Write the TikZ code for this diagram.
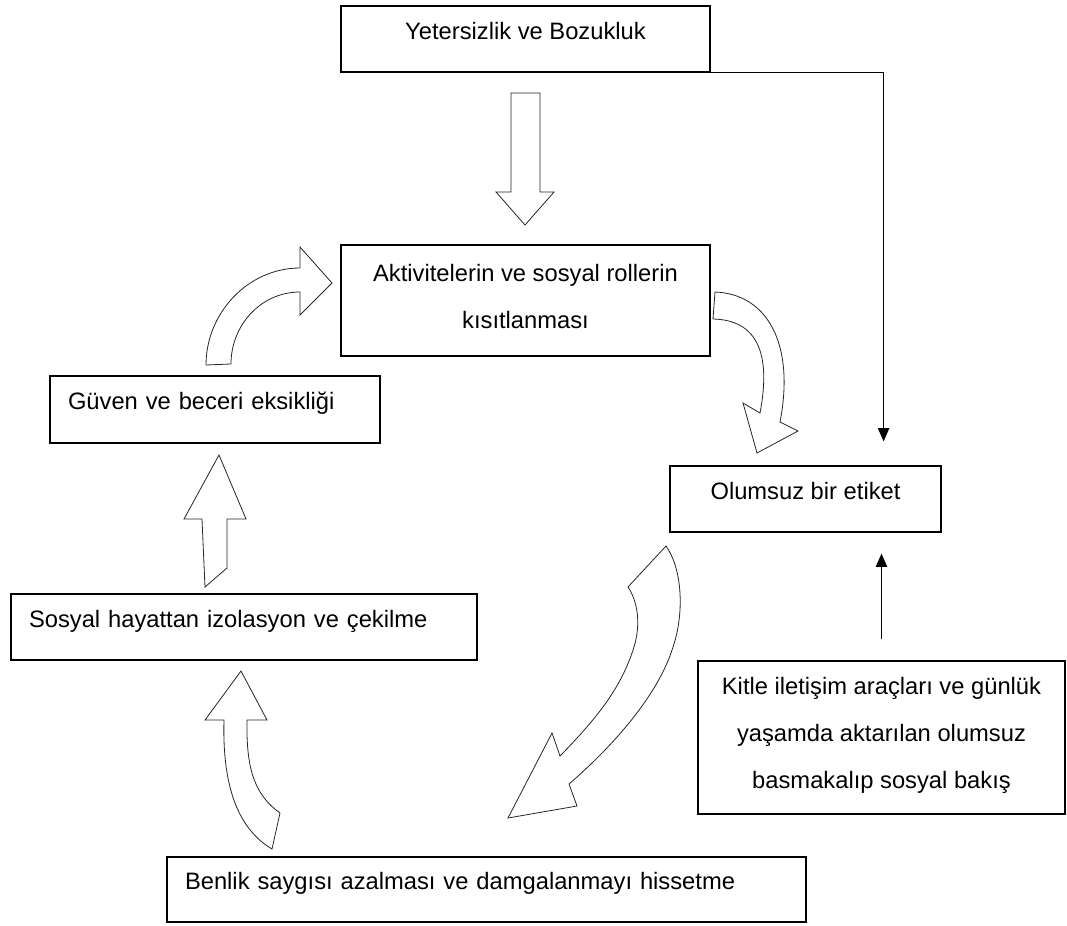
\documentclass[tikz,border=0pt]{standalone}
\usepackage{fontspec}
\setmainfont{Liberation Sans}
\usetikzlibrary{arrows.meta}

\begin{document}
\begin{tikzpicture}[x=0.75pt, y=-0.75pt,
    every node/.style={font=\fontsize{17.8}{35}\selectfont},
    kutu/.style={draw, line width=0.9pt, align=center, text height=10pt, text depth=10pt},
    solkutu/.style={kutu, align=left, inner xsep=13.5pt},
    blokok/.style={draw=black!85, line width=0.6pt, fill=white},
    ince/.style={line width=0.9pt, -{Triangle[length=10pt,width=8.5pt]}}]

    \useasboundingbox (0,0) rectangle (1067,925);

    % Kutular
    \node[kutu, minimum width=276.75pt, minimum height=49.5pt] (yet) at (525.5,39) {Yetersizlik ve Bozukluk};
    \node[kutu, minimum width=276.75pt, minimum height=83.25pt, text height=49.25pt, text depth=8pt] (akt) at (525.5,300.5) {Aktivitelerin ve sosyal rollerin\\kısıtlanması};
    \node[solkutu, text width=220.5pt, minimum height=50.25pt] (guv) at (215,409.5) {Güven ve beceri eksikliği};
    \node[kutu, minimum width=203.25pt, minimum height=49.5pt] (olu) at (805.5,499) {Olumsuz bir etiket};
    \node[solkutu, text width=322.5pt, minimum height=49.5pt] (sos) at (244,627) {Sosyal hayattan izolasyon ve çekilme};
    \node[kutu, minimum width=275.25pt, minimum height=114.75pt, text height=83.75pt, text depth=8pt] (kit) at (881.5,737.5) {Kitle iletişim araçları ve günlük\\yaşamda aktarılan olumsuz\\basmakalıp sosyal bakış};
    \node[solkutu, text width=452.25pt, minimum height=48.75pt] (ben) at (486.5,889.5) {Benlik saygısı azalması ve damgalanmayı hissetme};

    % Oklar
    \draw[ince] (yet.south east) -| ([xshift=-43.5pt, yshift=18pt]olu.north east);
    \draw[ince, shorten <=15.75pt, shorten >=15.75pt] (kit.north) -- (kit.north |- olu.south);

    % Blok oklar
    \draw[blokok] (511,93) -- (511,192) -- (496,192) -- (525,225) -- (554,192) -- (540,192) -- (540,93) -- cycle;
    \draw[blokok] (715,292) .. controls (768,294) and (795,345) .. (780,422) -- (798,431) -- (757,453) -- (743,403) -- (760,413) .. controls (772,350) and (755,320) .. (713,319) -- cycle;
    \draw[blokok] (666,546) .. controls (683,570) and (684,615) .. (673,647) .. controls (660,690) and (620,740) .. (569,784) -- (577,806) -- (508,818) -- (552,733) -- (560,756) .. controls (595,720) and (620,690) .. (633,650) .. controls (640,630) and (640,605) .. (628,587) -- cycle;
    \draw[blokok] (272,849) -- (280,813) .. controls (255,795) and (246,770) .. (247,720) -- (267,720) -- (241,671) -- (205,720) -- (224,720) .. controls (222,790) and (240,830) .. (272,849) -- cycle;
    \draw[blokok] (205,587) -- (202,519) -- (184,519) -- (219,455) -- (246,519) -- (227,519) -- (227,568) -- cycle;
    \draw[blokok] (206,365) .. controls (206,313) and (248,268) .. (300,268) -- (300,247) -- (332,283) -- (300,315) -- (300,292) .. controls (261,292) and (231,325) .. (231,364) -- cycle;

\end{tikzpicture}
\end{document}
